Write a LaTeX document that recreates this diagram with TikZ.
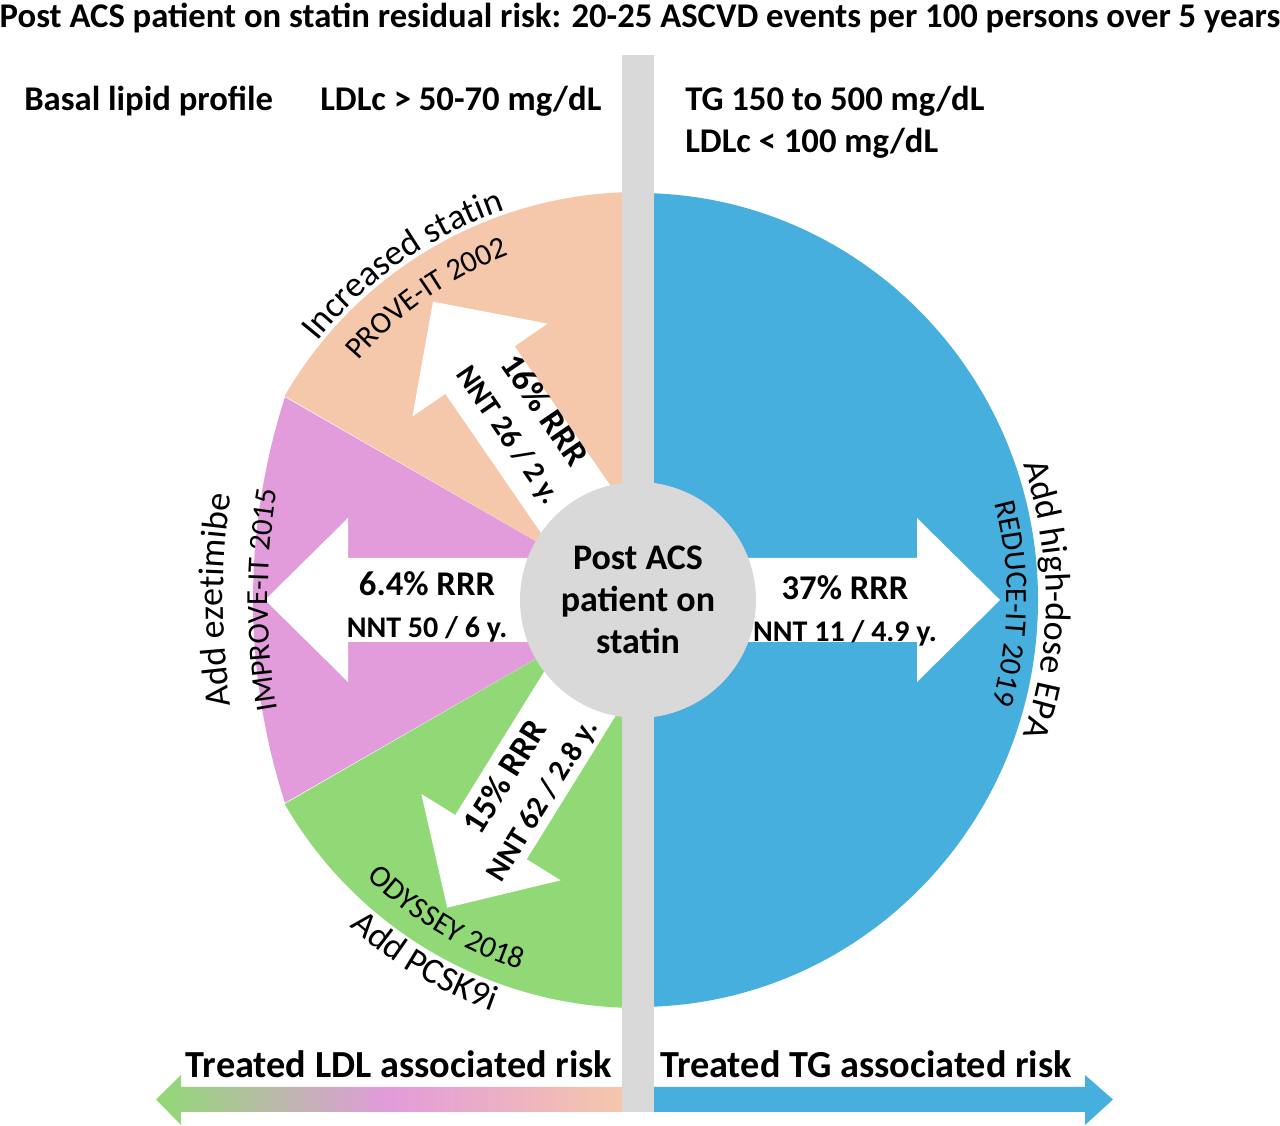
\documentclass[tikz,border=0pt]{standalone}
\usepackage{fontspec}
\setmainfont{Carlito}
\usetikzlibrary{calc}
\usetikzlibrary{decorations.text}

\definecolor{peach}{RGB}{245,199,171}
\definecolor{orchid}{RGB}{226,155,219}
\definecolor{leaf}{RGB}{145,217,118}
\definecolor{sky}{RGB}{71,175,222}
\definecolor{bargray}{RGB}{217,217,217}

\newcommand\armbig{\fontsize{26}{31.5}\selectfont\bfseries}
\newcommand\armsmall{\fontsize{22.5}{31.5}\selectfont\bfseries}
\newcommand\arcbig{\fontsize{27}{30}\selectfont}
\newcommand\arcsmall{\fontsize{23}{26}\selectfont}
% white block arrow out of the hub: angle, length
\newcommand\blockarrow[2]{%
  \fill[arrowfill, shift={(C)}, rotate=#1] (0,42) -- (#2-83,42) -- (#2-83,82) -- (#2,0)
    -- (#2-83,-82) -- (#2-83,-42) -- (0,-42) -- cycle;}

\tikzset{
    hubnode/.style = {circle, fill=bargray, minimum size=177pt, inner sep=0pt, align=center, font=\fontsize{27}{31.5}\selectfont\bfseries},
    arrowfill/.style = {fill=white},
    headtxt/.style = {anchor=base west, inner sep=0pt, font=\armbig},
    risktxt/.style = {anchor=base, inner sep=0pt, font=\fontsize{28.7}{32}\selectfont\bfseries},
    armtxt/.style = {align=center, inner sep=0pt},
    arcout/.style = {decorate, decoration={text along path, text align=center, text={|\arcbig|#1}}},
    arcin/.style = {decorate, decoration={text along path, text align=center, text={|\arcsmall|#1}}}
}

\begin{document}
\begin{tikzpicture}[x=0.75pt, y=0.75pt]
\useasboundingbox (0,0) rectangle (1280,1126);
\coordinate (C) at (638,526);
\coordinate (P) at (913,526); % centre of the flat pink arc
%
\fill[sky] (C) -- ++(0,407) arc[start angle=90, end angle=-90, x radius=400, y radius=407] -- cycle;
\fill[peach] (C) -- ++(90:408) arc[start angle=90, end angle=150, radius=408] -- cycle;
\fill[orchid] (C) -- ($(P)+(162.1:660)$) arc[start angle=162.1, end angle=197.9, radius=660] -- cycle;
\fill[leaf] (C) -- ++(210:408) arc[start angle=210, end angle=270, radius=408] -- cycle;
%
\fill[bargray] (622,14) rectangle (654,1071);
%
\blockarrow{0}{362}
\blockarrow{180}{373}
\blockarrow{124.5}{362}
\blockarrow{238.2}{362}
\node[hubnode] (hub) at (C) {Post ACS\\patient on\\statin};
%
\node[armtxt, font=\armbig] (tg) at (845,515) {37\% RRR\\{\armsmall NNT 11 / 4.9 y.}};
\node[armtxt, font=\armbig] (eze) at (427,519) {6.4\% RRR\\{\armsmall NNT 50 / 6 y.}};
\node[armtxt, font=\armbig, rotate=-55.5] (sta) at (526,703) {16\% RRR\\{\armsmall NNT 26 / 2 y.}};
\node[armtxt, font=\armbig, rotate=58.2] (pcsk) at (524,337) {15\% RRR\\{\armsmall NNT 62 / 2.8 y.}};
%
\path[arcout=Increased statin, shift={(C)}] (150:412) arc[start angle=150, end angle=100, radius=412];
\path[arcin=PROVE-IT 2002, shift={(C)}] (150:368) arc[start angle=150, end angle=100, radius=368];
\path[arcout=Add ezetimibe, shift={(P)}] (200:690) arc[start angle=200, end angle=160, radius=690];
\path[arcin=IMPROVE-IT 2015, shift={(P)}] (200:645) arc[start angle=200, end angle=160, radius=645];
\path[arcin=ODYSSEY 2018, shift={(C)}] (214:388) arc[start angle=214, end angle=264, radius=388];
\path[arcout=Add PCSK9i, shift={(C)}] (214:436) arc[start angle=214, end angle=265, radius=436];
\path[arcout=Add high-dose EPA, shift={(C)}] (25:408) arc[start angle=25, end angle=-25, radius=408];
\path[arcin=REDUCE-IT 2019, shift={(C)}] (24:369) arc[start angle=24, end angle=-25, radius=369];
%
\node[anchor=base, inner sep=0pt, font=\armbig] (title) at (640,1098) {Post ACS patient on statin residual risk: 20-25 ASCVD events per 100 persons over 5 years};
\node[headtxt] (basal) at (24,1015) {Basal lipid profile};
\node[headtxt] (ldlhi) at (320,1015) {LDLc > 50-70 mg/dL};
\node[headtxt] (tgrange) at (685,1015) {TG 150 to 500 mg/dL};
\node[headtxt] (ldllo) at (685,973) {LDLc < 100 mg/dL};
%
\shade[left color=leaf, right color=peach, middle color=orchid] (622,39) -- (181,39) -- (181,51) -- (156,26.5)
    -- (181,1) -- (181,14) -- (622,14) -- cycle;
\fill[sky] (654,39) -- (1085,39) -- (1085,51) -- (1113,26.5) -- (1085,1) -- (1085,14) -- (654,14) -- cycle;
\node[risktxt] (ldlrisk) at (399,48) {Treated LDL associated risk};
\node[risktxt] (tgrisk) at (866,48) {Treated TG associated risk};

\end{tikzpicture}
\end{document}
